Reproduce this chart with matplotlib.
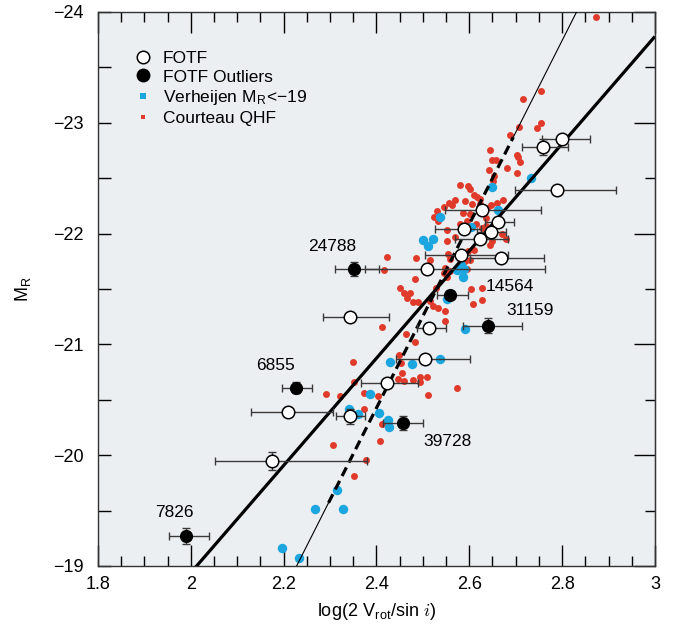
import numpy as np
import matplotlib
matplotlib.use('Agg')
import matplotlib.pyplot as plt
from matplotlib.lines import Line2D
from matplotlib.ticker import MultipleLocator

plt.rcParams['font.family'] = ['Liberation Sans', 'DejaVu Sans']
plt.rcParams['mathtext.fontset'] = 'cm'

# ---------------- data ----------------
# FOTF (open circles): x, M_R, x-error low/high ends, y-error
fotf_x = [2.799, 2.758, 2.790, 2.627, 2.662, 2.588, 2.646, 2.623, 2.582, 2.668,
          2.509, 2.343, 2.514, 2.504, 2.423, 2.344, 2.210, 2.176]
fotf_m = [-22.85, -22.78, -22.39, -22.21, -22.10, -22.04, -22.01, -21.95, -21.81, -21.78,
          -21.68, -21.25, -21.15, -20.87, -20.65, -20.35, -20.39, -19.95]
fotf_lo = [2.756, 2.713, 2.698, 2.548, 2.634, 2.526, 2.616, 2.569, 2.504, 2.601,
           2.375, 2.284, 2.487, 2.442, 2.366, 2.313, 2.129, 2.052]
fotf_hi = [2.861, 2.813, 2.917, 2.754, 2.697, 2.625, 2.680, 2.684, 2.683, 2.761,
           2.763, 2.428, 2.550, 2.601, 2.490, 2.375, 2.307, 2.379]
fotf_yerr = [0, 0.07, 0, 0, 0, 0, 0, 0, 0, 0,
             0, 0, 0, 0, 0, 0.07, 0, 0.08]

# FOTF outliers (filled circles)
out_names = ['24788', '14564', '31159', '6855', '39728', '7826']
out_x = [2.351, 2.558, 2.641, 2.227, 2.458, 1.990]
out_m = [-21.68, -21.45, -21.17, -20.61, -20.29, -19.27]
out_lo = [2.311, 2.530, 2.587, 2.196, 2.415, 1.953]
out_hi = [2.406, 2.598, 2.714, 2.262, 2.501, 2.039]
out_yerr = [0.06, 0.0, 0.07, 0.05, 0.06, 0.07]
out_label_x = [2.304, 2.688, 2.731, 2.183, 2.554, 1.964]
out_label_m = [-21.88, -21.52, -21.31, -20.81, -20.12, -19.48]

# Verheijen M_R < -19 (blue)
ver_x = [2.196, 2.233, 2.267, 2.328, 2.316, 2.386, 2.341, 2.361, 2.406, 2.425,
         2.427, 2.591, 2.429, 2.477, 2.537, 2.551, 2.501, 2.522, 2.512, 2.537,
         2.583, 2.588, 2.587, 2.574, 2.604, 2.662, 2.648, 2.734]
ver_m = [-19.16, -19.07, -19.51, -19.51, -19.69, -20.55, -20.42, -20.37, -20.38, -20.32,
         -20.25, -21.14, -20.84, -20.82, -20.87, -21.41, -21.94, -21.95, -21.89, -22.15,
         -21.72, -21.68, -21.61, -21.67, -22.06, -22.21, -22.42, -22.50]

# Courteau QHF (red)
cou_x = [2.872, 2.754, 2.715, 2.754, 2.746, 2.708, 2.688, 2.644, 2.648, 2.657,
         2.702, 2.705, 2.709, 2.643, 2.682, 2.702, 2.653, 2.652, 2.580, 2.598,
         2.601, 2.611, 2.616, 2.623, 2.672, 2.557, 2.562, 2.591, 2.605, 2.546,
         2.530, 2.524, 2.532, 2.586, 2.601, 2.639, 2.647, 2.659, 2.636, 2.594,
         2.614, 2.580, 2.637, 2.627, 2.551, 2.569, 2.670, 2.680, 2.648, 2.644,
         2.551, 2.611, 2.598, 2.555, 2.558, 2.580, 2.601, 2.485, 2.515, 2.422,
         2.416, 2.548, 2.558, 2.591, 2.596, 2.546, 2.551, 2.483, 2.451, 2.459,
         2.465, 2.472, 2.479, 2.490, 2.528, 2.603, 2.627, 2.627, 2.607, 2.515,
         2.522, 2.532, 2.548, 2.547, 2.411, 2.463, 2.483, 2.350, 2.449, 2.453,
         2.456, 2.447, 2.459, 2.478, 2.494, 2.508, 2.510, 2.573, 2.352, 2.291,
         2.322, 2.374, 2.404, 2.374, 2.411, 2.408, 2.306, 2.377, 2.352, 2.494,
         2.569, 2.623]
cou_m = [-23.95, -23.29, -23.21, -23.00, -22.95, -22.96, -22.89, -22.75, -22.66, -22.66,
         -22.71, -22.69, -22.65, -22.57, -22.59, -22.55, -22.52, -22.47, -22.44, -22.43,
         -22.40, -22.35, -22.33, -22.31, -22.30, -22.28, -22.26, -22.29, -22.27, -22.24,
         -22.20, -22.15, -22.11, -22.19, -22.18, -22.23, -22.26, -22.28, -22.14, -22.11,
         -22.09, -22.09, -22.07, -22.05, -22.03, -21.97, -22.00, -21.95, -21.93, -21.90,
         -21.93, -21.85, -21.84, -21.82, -21.77, -21.77, -21.76, -21.78, -21.76, -21.79,
         -21.67, -21.69, -21.66, -21.75, -21.68, -21.64, -21.61, -21.59, -21.51, -21.46,
         -21.42, -21.46, -21.38, -21.38, -21.51, -21.50, -21.51, -21.40, -21.36, -21.39,
         -21.35, -21.33, -21.30, -21.21, -21.16, -21.09, -21.02, -20.84, -20.90, -20.83,
         -20.74, -20.69, -20.67, -20.68, -20.71, -20.71, -20.54, -20.61, -20.66, -20.55,
         -20.53, -20.56, -20.53, -20.42, -20.28, -20.13, -20.09, -19.96, -19.81, -20.66,
         -22.30, -22.27]

# Fit lines: M = intercept + slope * x
thick_intercept, thick_slope = -9.259, -4.84
thin_intercept, thin_slope = -0.530, -8.29
dash_m_range = (-19.57, -22.87)   # part of thin relation drawn thick dashed

x_ticks = [1.8, 2.0, 2.2, 2.4, 2.6, 2.8, 3.0]
x_ticklabels = ['1.8', '2', '2.2', '2.4', '2.6', '2.8', '3']
y_ticks = [-24, -23, -22, -21, -20, -19]

# ---------------- plot ----------------
BLUE = '#1ba6e0'
RED = '#e03a2b'
BG = '#eceff1'

fig = plt.figure(figsize=(6.78, 6.36), dpi=100)
ax = fig.add_axes([0.1445, 0.1101, 0.8215, 0.8711])
ax.set_facecolor(BG)

ax.plot(cou_x, cou_m, 'o', color=RED, ms=5.0, mew=0, zorder=2)
ax.plot(ver_x, ver_m, 'o', color=BLUE, ms=6.8, mew=0, zorder=2.5)

# lines
xl = np.array([1.8, 3.0])
ax.plot(xl, thick_intercept + thick_slope * xl, color='black', lw=2.3, zorder=3,
        solid_capstyle='butt')
m_lo, m_hi = dash_m_range
x_d0 = (m_lo - thin_intercept) / thin_slope
x_d1 = (m_hi - thin_intercept) / thin_slope
xa = np.array([1.8, x_d0])
xb = np.array([x_d0, x_d1])
xc = np.array([x_d1, 3.0])
ax.plot(xa, thin_intercept + thin_slope * xa, color='black', lw=0.8, zorder=3)
ax.plot(xc, thin_intercept + thin_slope * xc, color='black', lw=0.8, zorder=3)
ax.plot(xb, thin_intercept + thin_slope * xb, color='black', lw=2.3, zorder=3,
        dashes=(3.0, 1.7))

# error bars
fx = np.array(fotf_x); fm = np.array(fotf_m)
ax.errorbar(fx, fm, xerr=[fx - np.array(fotf_lo), np.array(fotf_hi) - fx],
            fmt='none', ecolor='#3a3a3a', elinewidth=1.0, capsize=3, capthick=1.0, zorder=4)
fy = np.array(fotf_yerr)
sel = fy > 0
ax.errorbar(fx[sel], fm[sel], yerr=fy[sel], fmt='none', ecolor='#3a3a3a',
            elinewidth=1.0, capsize=3, capthick=1.0, zorder=4)
ox = np.array(out_x); om = np.array(out_m)
ax.errorbar(ox, om, xerr=[ox - np.array(out_lo), np.array(out_hi) - ox],
            fmt='none', ecolor='#3a3a3a', elinewidth=1.0, capsize=3, capthick=1.0, zorder=4)
oy = np.array(out_yerr)
sel = oy > 0
ax.errorbar(ox[sel], om[sel], yerr=oy[sel], fmt='none', ecolor='#3a3a3a',
            elinewidth=1.0, capsize=3, capthick=1.0, zorder=4)

ax.plot(fx, fm, 'o', mfc='white', mec='black', ms=9.0, mew=1.1, zorder=5)
ax.plot(ox, om, 'o', mfc='black', mec='black', ms=8.5, mew=1.0, zorder=5)

for name, lx, lm in zip(out_names, out_label_x, out_label_m):
    ax.text(lx, lm, name, ha='center', va='center', fontsize=12.5, zorder=6)

ax.set_xlim(1.8, 3.0)
ax.set_ylim(-19, -24)
ax.set_xticks(x_ticks)
ax.set_xticklabels(x_ticklabels)
ax.xaxis.set_minor_locator(MultipleLocator(0.05))
ax.set_yticks(y_ticks)
ax.yaxis.set_minor_locator(MultipleLocator(0.5))
ax.tick_params(axis='x', which='major', direction='in', top=True, length=15, width=1,
               pad=7, labelsize=13)
ax.tick_params(axis='x', which='minor', direction='in', top=True, length=7.5, width=1)
ax.tick_params(axis='y', which='both', direction='in', left=True, right=False,
               length=9.5, width=1, pad=10, labelsize=13)

sec = ax.secondary_yaxis('right')
sec.set_yticks(y_ticks)
sec.yaxis.set_minor_locator(MultipleLocator(0.5))
sec.tick_params(axis='y', which='major', direction='in', length=15, width=1, labelright=False)
sec.tick_params(axis='y', which='minor', direction='in', length=7.5, width=1)

for s in ax.spines.values():
    s.set_linewidth(1.0)
    s.set_color('#333333')

ax.set_xlabel(r'log(2 V$_{\mathregular{rot}}$/sin $i$)', fontsize=13, labelpad=6)
ax.set_ylabel(r'M$_{\mathregular{R}}$', fontsize=13, labelpad=14)

handles = [
    Line2D([], [], ls='none', marker='o', mfc='white', mec='black', ms=9.0, mew=1.1),
    Line2D([], [], ls='none', marker='o', mfc='black', mec='black', ms=9.0),
    Line2D([], [], ls='none', marker='s', color=BLUE, ms=4.5, mew=0),
    Line2D([], [], ls='none', marker='s', color=RED, ms=3.5, mew=0),
]
labels = ['FOTF', 'FOTF Outliers', 'Verheijen M$_{\\mathregular{R}}$<\u221219', 'Courteau QHF']
ax.legend(handles, labels, loc='upper left', bbox_to_anchor=(0.065, 0.93),
          frameon=False, fontsize=12.5, handlelength=1.0, handletextpad=0.65,
          labelspacing=0.2, borderpad=0, borderaxespad=0)

fig.savefig('out.png', dpi=100)
